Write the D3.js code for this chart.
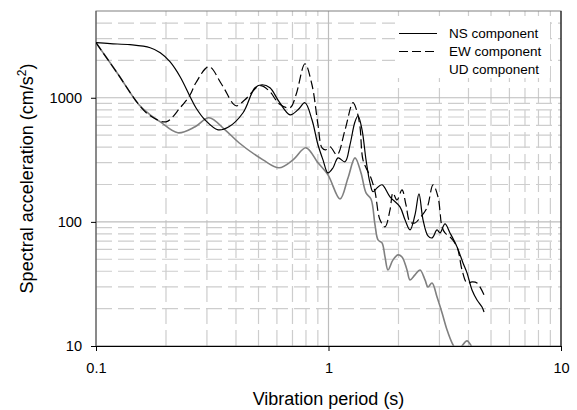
<!DOCTYPE html>
<html lang="en">
<head>
    <meta charset="UTF-8">
    <title></title>
    <style type="text/css">
        html, body { padding:0; margin:0; background:#fff; }
        text { font-family: "Liberation Sans", Arial, sans-serif; fill:#000; }
    </style>
</head>
<body>
<script src="https://d3js.org/d3.v7.min.js"></script>
<script>
    // periods (s) and spectral accelerations (cm/s2)
    var nsT = [0.100,0.115,0.140,0.171,0.189,0.208,0.230,0.254,0.269,0.294,0.335,0.373,0.429,0.483,0.518,0.560,0.613,0.683,0.739,0.792,0.849,0.901,0.947,0.995,1.046,1.099,1.178,1.237,1.300,1.340,1.394,1.450,1.508,1.554,1.617,1.699,1.839,2.030,2.133,2.242,2.355,2.450,2.550,2.679,2.788,2.930,3.017,3.170,3.331,3.571,3.789,3.942,4.142,4.353,4.574,4.666];
    var nsA = [2777,2726,2676,2531,2306,1952,1477,1019,831,665,552,584,757,1204,1273,1204,929,729,800,912,665,418,316,248,273,328,305,418,640,716,552,316,206,175,188,199,159,132,104,86.2,113.9,168,104,77.1,74.3,86.2,81.5,96.3,81.5,62.9,46.7,38.8,28.3,23.5,20.6,18.8];

    var ewT = [0.100,0.124,0.153,0.171,0.200,0.230,0.254,0.269,0.306,0.348,0.400,0.437,0.508,0.560,0.613,0.683,0.725,0.792,0.849,0.901,0.938,0.976,1.015,1.088,1.178,1.275,1.327,1.366,1.407,1.479,1.523,1.585,1.665,1.750,1.839,1.894,1.970,2.071,2.154,2.242,2.355,2.475,2.653,2.816,2.958,3.078,3.170,3.331,3.571,3.752,3.942,4.142,4.353,4.712];
    var ewA = [2777,1561,878,716,640,831,1057,1321,1778,1273,862,964,1250,1118,895,831,1057,1880,1273,606,395,381,403,347,552,912,771,584,316,253,226,175,104,91.1,125,171,150,181,137,100,98,107.7,129.7,199,159,91.1,81.5,75.7,62.9,41.0,32.2,32.8,32.2,24.8];

    var udT = [0.100,0.124,0.153,0.171,0.189,0.225,0.267,0.306,0.359,0.412,0.523,0.613,0.704,0.800,0.901,0.995,1.121,1.213,1.300,1.380,1.450,1.523,1.585,1.633,1.699,1.750,1.803,1.894,1.990,2.071,2.176,2.242,2.355,2.475,2.601,2.679,2.788,2.930,3.078,3.234,3.398,3.606,3.752,3.942,4.142,4.310];
    var udA = [2777,1561,878,729,640,522,584,690,552,434,316,273,316,395,299,239,153,226,328,248,171,153,94.6,71.6,67.7,52.2,41.0,49.4,54.2,52.2,41.0,34.1,37.4,41.0,34.1,29.9,32.2,24.8,18.5,13.5,10.6,8.9,10.0,11.0,9.8,8.6];

    var xTicks = [0.1, 1, 10];
    var yTicks = [10, 100, 1000];
    var xMinor = [0.2,0.3,0.4,0.5,0.6,0.7,0.8,0.9,2,3,4,5,6,7,8,9];
    var yMinor = [20,30,40,50,60,70,80,90,200,300,400,500,600,700,800,900,2000,3000,4000];
    var names = ['NS component', 'EW component', 'UD component'];

    var chart = {};

    chart.options = {
        width: 577,
        height: 410,
        left: 96, right: 561, top: 11, bottom: 346
    };

    var o = chart.options;
    var x = d3.scaleLog().domain([0.1, 10]).range([o.left, o.right]);
    var y = d3.scaleLog().domain([10, 5000]).range([o.bottom, o.top]);

    var svg = d3.select('body').append('svg')
        .attr('width', o.width)
        .attr('height', o.height);

    svg.append('clipPath').attr('id', 'plot')
       .append('rect')
       .attr('x', o.left).attr('y', o.top)
       .attr('width', o.right - o.left).attr('height', o.bottom - o.top);

    // grid
    var grid = svg.append('g').attr('stroke-width', 1.2);
    grid.selectAll('.hmin').data(yMinor).enter().append('line')
        .attr('x1', o.left).attr('x2', o.right)
        .attr('y1', function(d) { return y(d); }).attr('y2', function(d) { return y(d); })
        .attr('stroke', '#cdcdcd').attr('stroke-dasharray', '16,6');
    grid.selectAll('.vmin').data(xMinor).enter().append('line')
        .attr('y1', o.bottom).attr('y2', o.top)
        .attr('x1', function(d) { return x(d); }).attr('x2', function(d) { return x(d); })
        .attr('stroke', '#cdcdcd').attr('stroke-dasharray', '16,6');
    grid.selectAll('.hmaj').data(yTicks.slice(1)).enter().append('line')
        .attr('x1', o.left).attr('x2', o.right)
        .attr('y1', function(d) { return y(d); }).attr('y2', function(d) { return y(d); })
        .attr('stroke', '#bdbdbd');
    grid.append('line')
        .attr('y1', o.bottom).attr('y2', o.top)
        .attr('x1', x(1)).attr('x2', x(1))
        .attr('stroke', '#bdbdbd');

    // frame
    svg.append('rect')
       .attr('x', o.left).attr('y', o.top)
       .attr('width', o.right - o.left).attr('height', o.bottom - o.top)
       .attr('fill', 'none').attr('stroke', '#808080');
    svg.append('line').attr('x1', o.right).attr('x2', o.right).attr('y1', o.top).attr('y2', o.bottom)
       .attr('stroke', '#000');
    svg.append('line').attr('x1', o.left).attr('x2', o.left).attr('y1', o.top).attr('y2', o.bottom)
       .attr('stroke', '#555');

    // legend background
    svg.append('rect').attr('x', 395).attr('y', 17).attr('width', 155).attr('height', 61)
       .attr('fill', '#fff');

    // axes
    var xAxis = d3.axisBottom(x).tickValues(xTicks).tickFormat(function(d) { return String(d); })
        .tickSize(5).tickPadding(11.7);
    svg.append('g').attr('class', 'x-axis')
       .attr('transform', 'translate(0,' + o.bottom + ')').call(xAxis);

    var yAxis = d3.axisLeft(y).tickValues(yTicks).tickFormat(function(d) { return String(d); })
        .tickSize(5).tickPadding(9);
    svg.append('g').attr('class', 'y-axis')
       .attr('transform', 'translate(' + o.left + ',0)').call(yAxis);

    svg.selectAll('.x-axis .tick text, .y-axis .tick text')
       .attr('font-size', 14.6).attr('font-family', '"Liberation Sans", Arial, sans-serif').attr('fill', '#000');
    svg.select('.y-axis .domain').remove();
    svg.select('.x-axis .domain').attr('stroke', '#000');

    // curves
    var line = d3.line()
        .x(function(d) { return x(d[0]); })
        .y(function(d) { return y(d[1]); })
        .curve(d3.curveCatmullRom.alpha(0.5));

    function pairs(t, a) { return t.map(function(v, i) { return [v, a[i]]; }); }

    var curves = svg.append('g').attr('clip-path', 'url(#plot)').attr('fill', 'none');
    curves.append('path').datum(pairs(udT, udA)).attr('d', line)
          .attr('stroke', '#808080').attr('stroke-width', 1.6);
    curves.append('path').datum(pairs(ewT, ewA)).attr('d', line)
          .attr('stroke', '#000').attr('stroke-width', 1.2).attr('stroke-dasharray', '9,4');
    curves.append('path').datum(pairs(nsT, nsA)).attr('d', line)
          .attr('stroke', '#000').attr('stroke-width', 1.2);

    // legend
    var lg = svg.append('g');
    lg.append('line').attr('x1', 399).attr('x2', 437).attr('y1', 33.5).attr('y2', 33.5)
      .attr('stroke', '#000').attr('stroke-width', 1);
    lg.append('line').attr('x1', 399).attr('x2', 437).attr('y1', 51.5).attr('y2', 51.5)
      .attr('stroke', '#000').attr('stroke-width', 1).attr('stroke-dasharray', '9,4');
    lg.selectAll('text').data(names).enter().append('text')
      .attr('x', 449).attr('y', function(d, i) { return 38.3 + i * 17.6; })
      .attr('font-size', 13.5).text(function(d) { return d; });

    // titles
    svg.append('text').attr('x', (o.left + o.right) / 2).attr('y', 405)
       .attr('text-anchor', 'middle').attr('font-size', 18).text('Vibration period (s)');
    var yt = svg.append('text')
       .attr('transform', 'translate(33,' + (o.top + o.bottom) / 2 + ') rotate(-90)')
       .attr('text-anchor', 'middle').attr('font-size', 18);
    yt.append('tspan').text('Spectral acceleration (cm/s');
    yt.append('tspan').attr('font-size', 12).attr('dy', -7).text('2');
    yt.append('tspan').attr('dy', 7).text(')');
</script>
</body>
</html>
